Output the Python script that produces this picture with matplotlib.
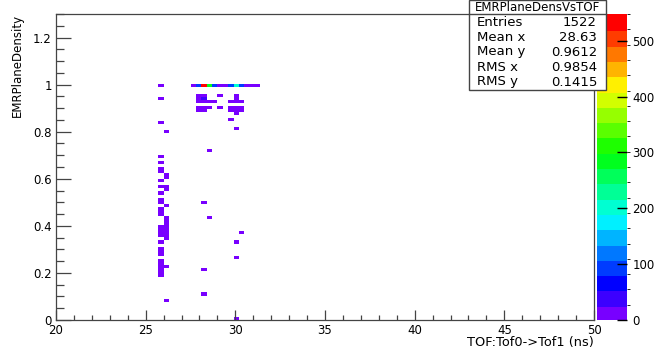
import numpy as np
import matplotlib
matplotlib.use('Agg')
import matplotlib.pyplot as plt
from matplotlib.colors import ListedColormap, BoundaryNorm, hsv_to_rgb
from matplotlib.patches import Rectangle
from matplotlib.lines import Line2D
from matplotlib.ticker import MultipleLocator, FuncFormatter

plt.rcParams['font.family'] = 'DejaVu Sans'

# main band at EMRPlaneDensity ~ 1
band_tof = [27.65, 27.95, 28.25, 28.55, 28.85, 29.15, 29.45, 29.75, 30.05, 30.35, 30.65, 30.95, 31.25]
band_dens = 0.994
band_counts = [8, 92, 548, 280, 92, 15, 15, 88, 200, 90, 6, 5, 4]

# column at TOF ~ 25.85 ns
col_a_tof = 25.85
col_a_dens = [0.188, 0.202, 0.214, 0.228, 0.240, 0.254, 0.280, 0.292, 0.306, 0.332,
              0.358, 0.370, 0.384, 0.396, 0.448, 0.462, 0.474, 0.500, 0.514, 0.540,
              0.566, 0.592, 0.630, 0.644, 0.670, 0.696, 0.838, 0.942, 0.994]
col_a_counts = [2, 3, 2, 3, 2, 2, 2, 3, 2, 1, 3, 4, 3, 2, 2, 3, 2, 2, 3, 1,
                1, 1, 2, 2, 1, 1, 1, 1, 2]

# column at TOF ~ 26.15 ns
col_b_tof = 26.15
col_b_dens = [0.084, 0.228, 0.344, 0.358, 0.370, 0.384, 0.396, 0.410, 0.422, 0.436,
              0.488, 0.552, 0.566, 0.604, 0.618, 0.800]
col_b_counts = [1, 1, 2, 3, 3, 2, 3, 2, 2, 1, 1, 2, 1, 2, 2, 1]

# scattered cells
other_tof = [27.95, 27.95, 27.95, 28.25, 28.25, 28.25, 28.55, 28.85, 29.15, 27.95,
             27.95, 28.25, 28.25, 28.55, 29.15, 30.05, 30.05, 29.75, 30.05, 30.35,
             29.75, 29.75, 30.05, 30.05, 30.35, 30.35, 30.05, 29.75, 30.05, 28.55,
             28.25, 28.25, 28.25, 28.55, 30.05, 30.05, 30.05, 30.35]
other_dens = [0.930, 0.942, 0.956, 0.930, 0.942, 0.956, 0.930, 0.930, 0.956, 0.890,
              0.904, 0.890, 0.904, 0.904, 0.904, 0.942, 0.956, 0.930, 0.930, 0.930,
              0.890, 0.904, 0.890, 0.904, 0.890, 0.904, 0.878, 0.852, 0.812, 0.722,
              0.500, 0.214, 0.110, 0.436, 0.332, 0.266, 0.006, 0.370]
other_counts = [2, 3, 2, 3, 40, 2, 2, 2, 2, 3, 2, 2, 3, 1, 1, 2, 2, 2, 2, 2,
                2, 2, 2, 2, 1, 2, 1, 1, 1, 1, 1, 1, 1, 1, 1, 1, 1, 1]

stats_labels = ['Entries', 'Mean x', 'Mean y', 'RMS x', 'RMS y']
stats_values = ['1522', '28.63', '0.9612', '0.9854', '0.1415']

# fill the histogram
xs = band_tof + [col_a_tof] * len(col_a_dens) + [col_b_tof] * len(col_b_dens) + other_tof
ys = [band_dens] * len(band_tof) + col_a_dens + col_b_dens + other_dens
ws = band_counts + col_a_counts + col_b_counts + other_counts
xedges = np.linspace(20, 50, 101)
yedges = np.linspace(0, 1.3, 101)
H, _, _ = np.histogram2d(xs, ys, bins=[xedges, yedges], weights=ws)
H = np.ma.masked_equal(H.T, 0)

# ROOT-like rainbow palette, 20 levels
hues = np.linspace(0.745, 0.0, 20)
cols = hsv_to_rgb(np.stack([hues, np.ones(20), np.ones(20)], axis=1))
cmap = ListedColormap(cols)
zmax = 548
norm = BoundaryNorm(np.linspace(0, zmax, 21), 20)

W, Hpx = 656, 348
fig = plt.figure(figsize=(W / 100, Hpx / 100), dpi=100)
ax = fig.add_axes([56 / W, 28 / Hpx, 538 / W, 306 / Hpx])
cax = fig.add_axes([597 / W, 28 / Hpx, 30 / W, 306 / Hpx])

mesh = ax.pcolormesh(xedges, yedges, H, cmap=cmap, norm=norm)
ax.set_xlim(20, 50)
ax.set_ylim(0, 1.3)

edge = '#444444'
for sp in ax.spines.values():
    sp.set_color(edge)
    sp.set_linewidth(0.9)

ax.xaxis.set_major_locator(MultipleLocator(5))
ax.xaxis.set_minor_locator(MultipleLocator(1))
ax.yaxis.set_major_locator(MultipleLocator(0.2))
ax.yaxis.set_minor_locator(MultipleLocator(0.05))
ax.yaxis.set_major_formatter(FuncFormatter(lambda v, p: f'{v:g}'))
ax.tick_params(axis='x', which='major', direction='in', length=7.2, width=0.9,
               color=edge, labelsize=8.5, pad=3)
ax.tick_params(axis='x', which='minor', direction='in', length=3.6, width=0.9, color=edge)
ax.tick_params(axis='y', which='major', direction='in', length=11, width=0.9,
               color=edge, labelsize=8.5, pad=3)
ax.tick_params(axis='y', which='minor', direction='in', length=5.5, width=0.9, color=edge)

cb = fig.colorbar(mesh, cax=cax, ticks=[0, 100, 200, 300, 400, 500])
cb.outline.set_visible(False)
cb.solids.set_edgecolor('face')
cax.set_ylim(0, zmax)
cax.tick_params(direction='in', length=7, width=1.0, color='black', labelsize=8.5, pad=4)
cax.yaxis.set_tick_params(which='both', zorder=10)
for t in cax.yaxis.get_major_ticks():
    t.tick2line.set_zorder(10)

fig.text(594 / W, 2 / Hpx, 'TOF:Tof0->Tof1 (ns)', ha='right', va='baseline', fontsize=9.3)
fig.text(17 / W, 1 - 14 / Hpx, 'EMRPlaneDensity', rotation=90, ha='center', va='top',
         fontsize=8.5)

# stats box
bx0, bx1, by1 = 469, 606, 90
fig.patches.append(Rectangle((bx0 / W, 1 - by1 / Hpx), (bx1 - bx0) / W, by1 / Hpx,
                             transform=fig.transFigure, facecolor='white',
                             edgecolor=edge, linewidth=1.0, zorder=5))
fig.lines.append(Line2D([bx0 / W, bx1 / W], [1 - 14 / Hpx, 1 - 14 / Hpx],
                        transform=fig.transFigure, color=edge, linewidth=1.0, zorder=6))
fig.text((bx0 + bx1) / 2 / W, 1 - 7.5 / Hpx, 'EMRPlaneDensVsTOF', ha='center',
         va='center', fontsize=8.5, zorder=7)
row_y = [22, 37.5, 52, 67.5, 82]
for lab, val, ry in zip(stats_labels, stats_values, row_y):
    fig.text(477 / W, 1 - ry / Hpx, lab, ha='left', va='center', fontsize=9.5, zorder=7)
    fig.text(597 / W, 1 - ry / Hpx, val, ha='right', va='center', fontsize=9.5, zorder=7)

fig.savefig('out.png', dpi=100)
